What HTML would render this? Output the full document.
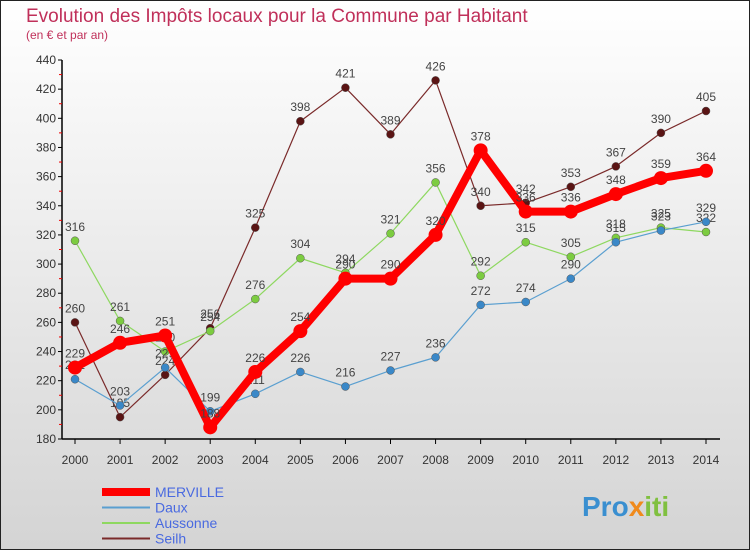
<!DOCTYPE html>
<html><head><meta charset="utf-8"><style>
body{margin:0;width:750px;height:550px;overflow:hidden}
svg{display:block;font-family:"Liberation Sans",sans-serif}
</style></head><body>
<svg id="c" width="750" height="550">
<defs><linearGradient id="bg" x1="0" y1="0" x2="0" y2="1"><stop offset="0" stop-color="#ffffff"/><stop offset="1" stop-color="#d4d4d4"/></linearGradient></defs>
<rect x="0.5" y="0.5" width="749" height="549" fill="url(#bg)" stroke="#222"/>
<text x="26" y="22" font-size="19" fill="#c0305a">Evolution des Impôts locaux pour la Commune par Habitant</text>
<text x="26" y="39" font-size="12" fill="#c0305a">(en € et par an)</text>
<g id="axes"></g><g id="series"></g><g id="legend"></g>
<text x="582" y="516" font-size="28" font-weight="bold" fill="#3a8fd0">Pro<tspan fill="#f08a1c">x</tspan><tspan fill="#80c040">iti</tspan></text>
</svg>
<script>
const years=[2000,2001,2002,2003,2004,2005,2006,2007,2008,2009,2010,2011,2012,2013,2014];
const yTicks=[180,200,220,240,260,280,300,320,340,360,380,400,420,440];
const merville=[229,246,251,188,226,254,290,290,320,378,336,336,348,359,364];
const daux=[221,203,229,199,211,226,216,227,236,272,274,290,315,323,329];
const aussonne=[316,261,240,254,276,304,294,321,356,292,315,305,318,325,322];
const seilh=[260,195,224,256,325,398,421,389,426,340,342,353,367,390,405];
const NS='http://www.w3.org/2000/svg';
const X=i=>75+i*(706-75)/(years.length-1);
const Y=v=>439-(v-180)*(439-60)/260;
function mk(t,a,p){const e=document.createElementNS(NS,t);for(const k in a)e.setAttribute(k,a[k]);p.appendChild(e);return e;}
const ax=document.getElementById('axes');
const yl=mk('line',{x1:62,y1:60,x2:62,y2:439,stroke:'#000','stroke-width':1.5},ax);

const xl=mk('line',{x1:62,y1:439,x2:720,y2:439,stroke:'#000','stroke-width':1.5},ax);

yTicks.forEach((v,i)=>{mk('line',{x1:58,y1:Y(v),x2:62,y2:Y(v),stroke:'#000'},ax);
 if(i<yTicks.length-1)mk('line',{x1:59,y1:Y(v+10),x2:62,y2:Y(v+10),stroke:'#e00'},ax);
 const t=mk('text',{x:56,y:Y(v)+4,'text-anchor':'end','font-size':12,fill:'#333'},ax);t.textContent=v;
 });
years.forEach((y,i)=>{mk('line',{x1:X(i),y1:439,x2:X(i),y2:444,stroke:'#000'},ax);
 const t=mk('text',{x:X(i),y:464,'text-anchor':'middle','font-size':12,fill:'#333'},ax);t.textContent=y;
 });
const sg=document.getElementById('series');
function draw(data,name,color,pt,w,r,lbl){
 const g=mk('g',{},sg);
 const l=mk('polyline',{points:data.map((v,i)=>X(i)+','+Y(v)).join(' '),fill:'none',stroke:color,'stroke-width':w,'stroke-linejoin':'round'},g);
 
 data.forEach((v,i)=>{const c=mk('circle',{cx:X(i),cy:Y(v),r:r,fill:pt,stroke:w>3?'none':'#555','stroke-width':0.5},g);
  
  if(lbl){const t=mk('text',{x:X(i),y:Y(v)-10,'text-anchor':'middle','font-size':12,fill:'#444'},g);t.textContent=v;
  }});
}
draw(seilh,'seilh','#7a2a2a','#5a1414',1.2,4,true);
draw(aussonne,'aussonne','#8ed860','#7ccc40',1.2,4,true);
draw(daux,'daux','#5a9fd0','#3a88c8',1.2,4,true);
draw(merville,'merville','#ff0000','#ff0000',8,7,true);
const lg=document.getElementById('legend');
const items=[['MERVILLE','#ff0000',8],['Daux','#5a9fd0',2],['Aussonne','#8ed860',2],['Seilh','#7a2a2a',2]];
items.forEach((it,i)=>{const y=492+i*15.5;
 const l=mk('line',{x1:102,y1:y,x2:150,y2:y,stroke:it[1],'stroke-width':it[2]},lg);
 
 const t=mk('text',{x:155,y:y+5,'font-size':14,fill:'#4a6ae0'},lg);t.textContent=it[0];
 });
</script>
</body></html>
